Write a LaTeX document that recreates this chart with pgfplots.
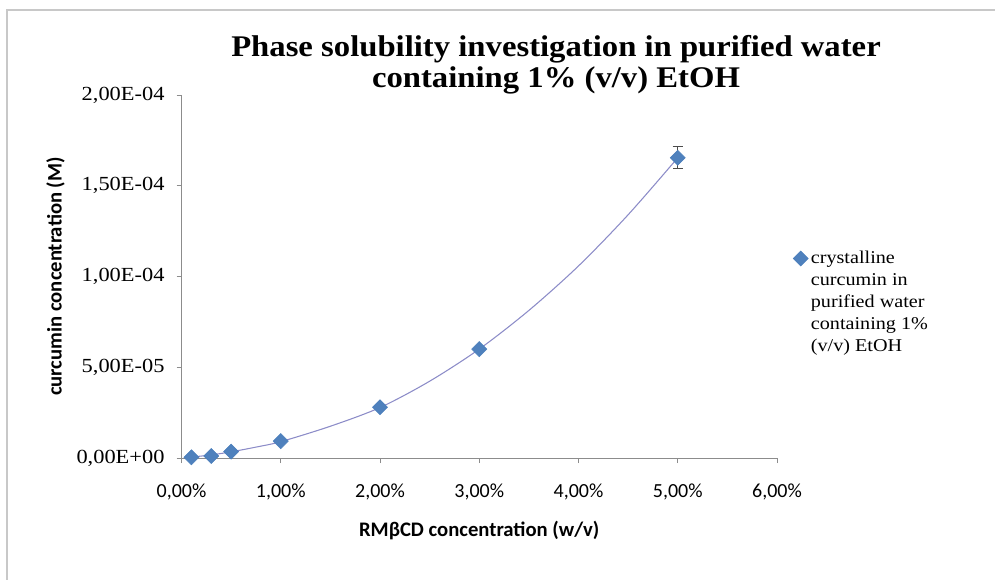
\documentclass[border=0pt]{standalone}
\usepackage{pgfplots}
\pgfplotsset{compat=1.18}
\usepackage{fontspec}
\setmainfont{Liberation Serif}
\newfontfamily\serifw[FakeStretch=1.12]{Liberation Serif}
\newfontfamily\titlefont[FakeStretch=1.09]{Liberation Serif}
\newfontfamily\calibri{Carlito}
\definecolor{mkfill}{HTML}{4F81BD}
\definecolor{mkdraw}{HTML}{4A7EBB}
\definecolor{trend}{RGB}{140,140,200}
\definecolor{axgray}{HTML}{8C8C8C}
\definecolor{framegray}{HTML}{C8C8C8}
\begin{document}
\begin{tikzpicture}[x=0.75pt,y=0.75pt]
\useasboundingbox (0,0) rectangle (995,579);
\draw[framegray, line width=1.5pt] (7,-2) -- (7,569) -- (997,569);
\node[font=\titlefont\bfseries\fontsize{22.5}{23.5}\selectfont, align=center] at (556,514)
  {Phase solubility investigation in purified water\\containing 1\% (v/v) EtOH};
\begin{axis}[
  at={(136.125pt,90.75pt)}, anchor=south west,
  scale only axis, width=446.6pt, height=272.25pt,
  xmin=0, xmax=6, ymin=0, ymax=2e-4,
  axis x line*=bottom, axis y line*=left,
  axis line style={axgray, line width=0.6pt, -},
  tick style={axgray, line width=0.6pt},
  tick align=outside, major tick length=3.75pt,
  xtick={0,1,2,3,4,5,6},
  xticklabels={{0,00\%},{1,00\%},{2,00\%},{3,00\%},{4,00\%},{5,00\%},{6,00\%}},
  ytick={0,5e-5,1e-4,1.5e-4,2e-4},
  yticklabels={{0,00E+00},{5,00E-05},{1,00E-04},{1,50E-04},{2,00E-04}},
  xticklabel style={font=\calibri\fontsize{15}{17}\selectfont, yshift=-12pt},
  yticklabel style={font=\serifw\fontsize{15}{17}\selectfont, xshift=-5.5pt},
  scaled y ticks=false,
  xlabel={\calibri\bfseries RMβCD concentration (w/v)},
  ylabel={\calibri\bfseries curcumin concentration (M)},
  xlabel style={font=\fontsize{15.5}{18}\selectfont, yshift=-9pt},
  ylabel style={font=\fontsize{15.5}{18}\selectfont, yshift=2pt},
  clip=false,
  legend style={at={(1.02,0.585)}, anchor=north west, draw=none, fill=none,
    font=\serifw\fontsize{13.5}{16.5}\selectfont, cells={align=left},
    legend cell align=left},
]
\addplot[trend, line width=0.8pt, smooth, forget plot] coordinates {
 (0.1,0.5e-6) (0.3,1.7e-6) (0.5,3.4e-6) (0.75,6.0e-6) (1,9.0e-6) (1.5,17.5e-6)
 (2,27.8e-6) (2.5,42.3e-6) (3,60e-6) (3.5,81.3e-6) (4,105.8e-6) (4.5,134e-6) (5,165.4e-6)};
\addplot[forget plot, only marks, mark=none, error bars/.cd, y dir=both, y explicit,
  error bar style={color=black!70, line width=0.8pt},
  error mark options={rotate=90, mark size=3.75pt, color=black!70, line width=0.8pt}]
  coordinates {(5,1.654e-4) +- (0,6e-6)};
\addplot[only marks, mark=square*, mark size=4pt,
  mark options={rotate=45, fill=mkfill, draw=mkdraw, line width=0.4pt},
  legend image post style={yshift=33pt}]
  coordinates {(0.1,4e-7) (0.3,1.1e-6) (0.5,3.5e-6) (1,9.3e-6) (2,2.8e-5) (3,6.0e-5) (5,1.654e-4)};
\addlegendentry{crystalline\\curcumin in\\purified water\\containing 1\%\\(v/v) EtOH}
\end{axis}
\end{tikzpicture}
\end{document}
